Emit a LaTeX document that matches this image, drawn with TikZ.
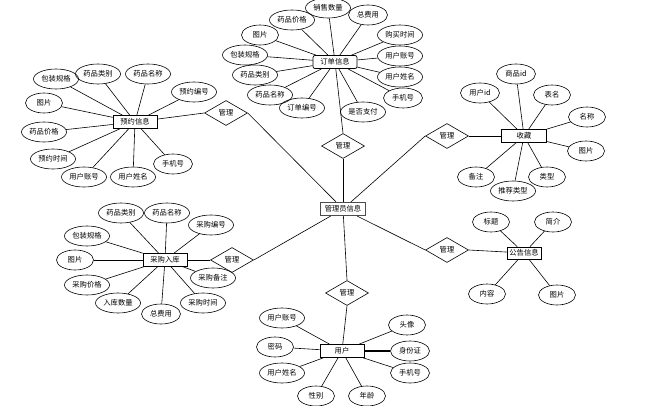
\documentclass[tikz,border=0pt]{standalone}
\usepackage{fontspec}
\newfontfamily\cjk{Noto Sans CJK SC}
\usetikzlibrary{shapes.geometric}
\tikzset{
  base/.style={font=\cjk\fontsize{7.3}{8}\selectfont, inner sep=1pt},
  ent/.style={base, draw, rectangle, minimum width=44pt, minimum height=13pt, line width=0.7pt},
  attr/.style={base, draw, ellipse, minimum width=45pt, minimum height=20pt, inner sep=0pt, line width=0.6pt},
  sattr/.style={attr, minimum width=37pt},
  rel/.style={base, draw, diamond, minimum width=43pt, minimum height=25pt, inner sep=0pt, line width=0.6pt},
  ln/.style={line width=0.6pt}
}
\begin{document}
\begin{tikzpicture}[x=1pt,y=-1pt]
\useasboundingbox (0,0) rectangle (655,406);
% central
\node[ent, line width=1.1pt, draw=black!70, minimum width=45pt] (adm) at (343,209) {管理员信息};
% ---------- 预约信息
\node[ent] (yy) at (135,122) {预约信息};
\node[attr] (yy1) at (56,79) {包装规格};
\node[attr] (yy2) at (98,74) {药品类别};
\node[attr] (yy3) at (148,74) {药品名称};
\node[attr] (yy4) at (194,92) {预约编号};
\node[sattr] (yy5) at (44,103) {图片};
\node[attr] (yy6) at (44,132) {药品价格};
\node[attr] (yy7) at (53,159) {预约时间};
\node[attr] (yy8) at (84,177) {用户账号};
\node[attr] (yy9) at (133,177) {用户姓名};
\node[sattr, minimum width=39pt] (yy10) at (173,164) {手机号};
\node[rel] (r1) at (226,113) {管理};
\foreach \i in {1,...,10} \draw[ln] (yy) -- (yy\i);
\draw[ln] (yy) -- (r1.west);
\draw[ln] (r1.east) -- (adm);
% ---------- 订单信息
\node[ent, rounded corners=2pt] (dd) at (335,62) {订单信息};
\node[attr] (dd1) at (328,8) {销售数量};
\node[sattr, minimum width=39pt] (dd2) at (368,15) {总费用};
\node[attr] (dd3) at (292,20) {药品价格};
\node[sattr] (dd4) at (260,35) {图片};
\node[attr] (dd5) at (245,55) {包装规格};
\node[attr] (dd6) at (255,75) {药品类别};
\node[attr] (dd7) at (270,95) {药品名称};
\node[attr] (dd8) at (302,108) {订单编号};
\node[attr] (dd9) at (363,112) {是否支付};
\node[attr] (dd10) at (400,35) {购买时间};
\node[attr] (dd11) at (400,56) {用户账号};
\node[attr] (dd12) at (400,77) {用户姓名};
\node[sattr, minimum width=39pt] (dd13) at (403,98) {手机号};
\node[rel] (r2) at (343,146) {管理};
\foreach \i in {1,...,13} \draw[ln] (dd) -- (dd\i);
\draw[ln] (dd) -- (r2.north);
\draw[ln] (r2.south) -- (adm);
% ---------- 收藏
\node[ent, minimum width=45pt] (sc) at (524,136) {收藏};
\node[attr, minimum width=39pt] (sc1) at (516,74) {商品id};
\node[attr, minimum width=39pt] (sc2) at (480,93) {用户id};
\node[sattr] (sc3) at (552,95) {表名};
\node[sattr] (sc4) at (587,117) {名称};
\node[sattr] (sc5) at (586,151) {图片};
\node[sattr] (sc6) at (547,177) {类型};
\node[attr] (sc7) at (513,191) {推荐类型};
\node[sattr] (sc8) at (476,177) {备注};
\node[rel] (r3) at (447,136) {管理};
\foreach \i in {1,...,8} \draw[ln] (sc) -- (sc\i);
\draw[ln] (sc) -- (r3.east);
\draw[ln] (r3.west) -- (adm);
% ---------- 公告信息
\node[ent, minimum width=34pt, minimum height=12pt] (gg) at (524,253) {公告信息};
\node[sattr] (gg1) at (491,222) {标题};
\node[sattr] (gg2) at (553,222) {简介};
\node[sattr] (gg3) at (487,294) {内容};
\node[sattr] (gg4) at (557,295) {图片};
\node[rel] (r4) at (447,250) {管理};
\foreach \i in {1,...,4} \draw[ln] (gg) -- (gg\i);
\draw[ln] (gg) -- (r4.east);
\draw[ln] (r4.west) -- (adm);
% ---------- 采购入库
\node[ent] (cg) at (165,260) {采购入库};
\node[attr] (cg1) at (121,213) {药品类别};
\node[attr] (cg2) at (167,213) {药品名称};
\node[attr] (cg3) at (211,225) {采购编号};
\node[attr] (cg4) at (87,236) {包装规格};
\node[sattr] (cg5) at (75,260) {图片};
\node[attr] (cg6) at (87,285) {采购价格};
\node[attr] (cg7) at (118,303) {入库数量};
\node[sattr, minimum width=39pt] (cg8) at (161,314) {总费用};
\node[attr] (cg9) at (203,303) {采购时间};
\node[attr] (cg10) at (213,278) {采购备注};
\node[rel] (r5) at (232,260) {管理};
\foreach \i in {1,...,10} \draw[ln] (cg) -- (cg\i);
\draw[ln] (cg) -- (r5.west);
\draw[ln] (r5.east) -- (adm);
% ---------- 用户
\node[ent] (yh) at (342,351) {用户};
\node[attr] (yh1) at (282,318) {用户账号};
\node[sattr] (yh2) at (275,347) {密码};
\node[attr] (yh3) at (282,373) {用户姓名};
\node[sattr] (yh4) at (316,396) {性别};
\node[sattr] (yh5) at (367,396) {年龄};
\node[sattr] (yh6) at (407,325) {头像};
\node[sattr, minimum width=39pt] (yh7) at (410,351) {身份证};
\node[sattr, minimum width=39pt] (yh8) at (410,373) {手机号};
\node[rel] (r6) at (347,293) {管理};
\foreach \i in {1,...,6,8} \draw[ln] (yh) -- (yh\i);
\draw[line width=1.3pt] (yh) -- (yh7);
\draw[ln] (yh) -- (r6.south);
\draw[ln] (r6.north) -- (adm);
\end{tikzpicture}
\end{document}
